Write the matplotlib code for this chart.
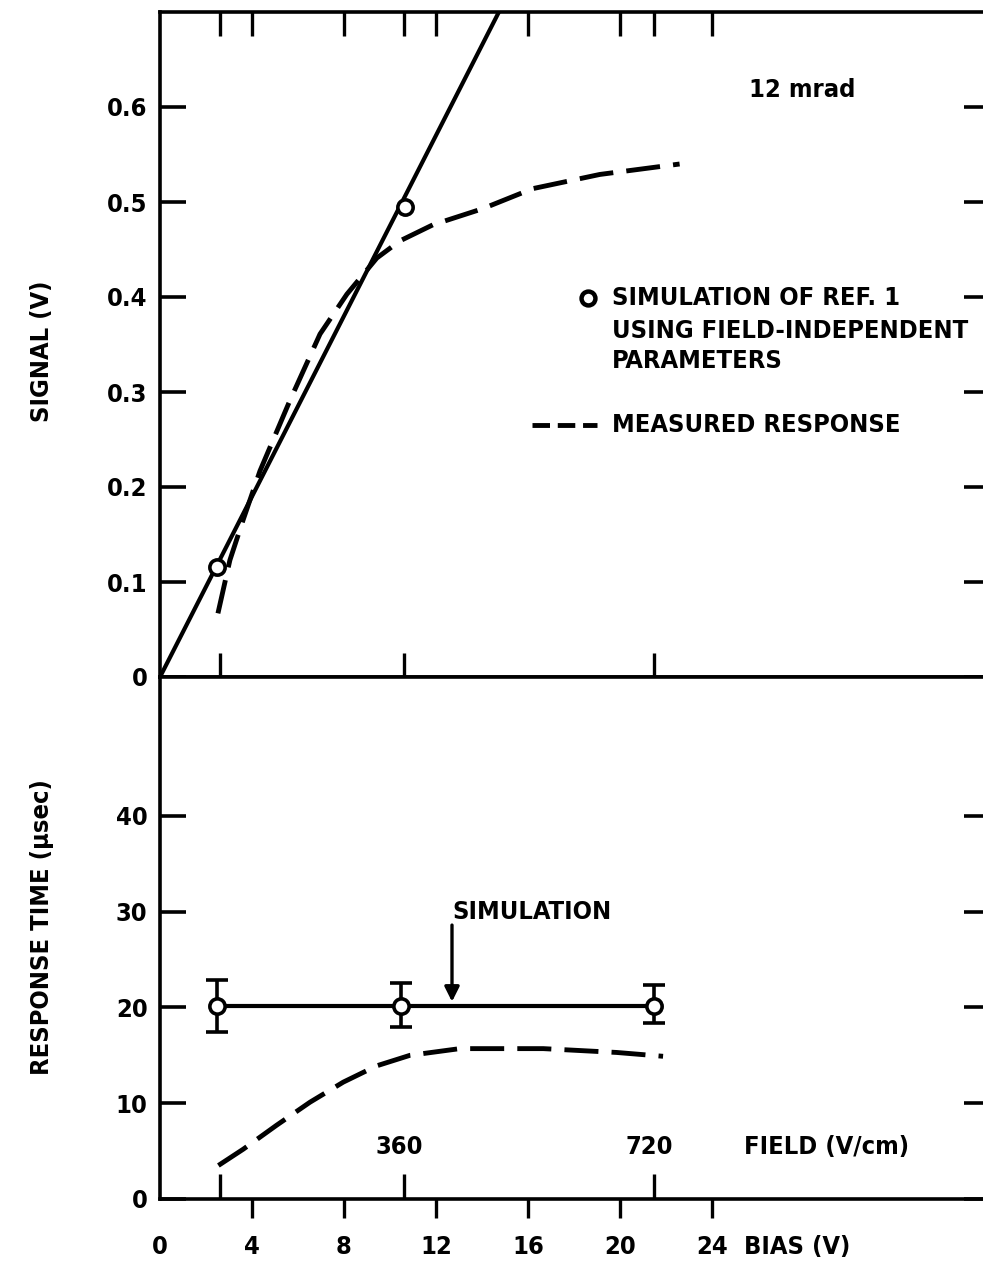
import matplotlib
matplotlib.use("Agg")
import matplotlib.pyplot as plt

plt.rcParams['font.family'] = ['Liberation Sans Narrow', 'DejaVu Sans']
plt.rcParams['font.weight'] = 'bold'
plt.rcParams['font.stretch'] = 'condensed'

# --- data ---
# top panel: signal vs bias
sim_line_x = [0.0, 14.74]
sim_line_y = [0.0, 0.70]
sim_pts_x = [2.47, 10.65]
sim_pts_y = [0.116, 0.495]
meas_sig_x = [2.52, 3.04, 3.61, 4.35, 5.65, 6.96, 8.13, 9.43, 10.43, 11.87, 14.04, 16.2, 19.13, 22.6]
meas_sig_y = [0.067, 0.123, 0.165, 0.217, 0.291, 0.361, 0.403, 0.441, 0.459, 0.476, 0.493, 0.514, 0.529, 0.540]

# bottom panel: response time vs bias
rt_sim_x = [2.5, 10.5, 21.5]
rt_sim_y = [20.2, 20.2, 20.2]
rt_err_lo = [2.8, 2.2, 1.8]
rt_err_hi = [2.7, 2.3, 2.1]
meas_rt_x = [2.54, 3.62, 5.07, 6.52, 7.97, 9.42, 10.87, 13.04, 14.78, 16.67, 19.86, 21.88]
meas_rt_y = [3.5, 5.2, 7.7, 10.1, 12.2, 13.9, 15.0, 15.7, 15.7, 15.7, 15.3, 14.9]

bias_ticks = [0, 4, 8, 12, 16, 20, 24]
field_ticks = [2.6, 10.6, 21.5]
field_labels = ['', '360', '720']
sig_ticks = [0, 0.1, 0.2, 0.3, 0.4, 0.5, 0.6]
sig_labels = ['0', '0.1', '0.2', '0.3', '0.4', '0.5', '0.6']
rt_ticks = [0, 10, 20, 30, 40]

W, H = 983, 1267
fig = plt.figure(figsize=(W / 100, H / 100), dpi=100)
ax1 = fig.add_axes([160 / W, 1 - 677 / H, 830 / W, 665 / H])
ax2 = fig.add_axes([160 / W, 1 - 1199 / H, 830 / W, 522 / H])

FS = 19
lw_axis = 2.6
for ax in (ax1, ax2):
    for s in ax.spines.values():
        s.set_linewidth(lw_axis)
    ax.set_xlim(0, 36.1)

# ---- top panel ----
ax1.set_ylim(0, 0.7)
ax1.plot(sim_line_x, sim_line_y, color='black', lw=3)
ax1.plot(meas_sig_x, meas_sig_y, color='black', lw=3.5, dashes=(7, 2.7))
ax1.plot(sim_pts_x, sim_pts_y, 'o', ms=11, mfc='white', mec='black', mew=2.6, zorder=5)

ax1.set_yticks(sig_ticks)
ax1.set_yticklabels(sig_labels)
ax1.tick_params(axis='y', which='major', direction='in', length=19, width=2.6,
                left=True, right=True, pad=9, labelsize=FS)
ax1.set_xticks([4, 8, 12, 16, 20, 24])
ax1.set_xticks(field_ticks, minor=True)
ax1.tick_params(axis='x', which='major', direction='in', length=17, width=2.4,
                top=True, bottom=False, labelbottom=False, labeltop=False)
ax1.tick_params(axis='x', which='minor', direction='in', length=17, width=2.4,
                top=True, bottom=True, labelbottom=False, labeltop=False)
ax1.set_ylabel('SIGNAL (V)', fontsize=FS, fontweight='bold')
ax1.yaxis.set_label_coords(-0.128, 0.49)

texts = []
texts.append(ax1.text(25.6, 0.618, '12 mrad', fontsize=FS, va='center'))
ax1.plot([18.6], [0.399], 'o', ms=10, mfc='white', mec='black', mew=3.2)
texts.append(ax1.text(19.65, 0.399, 'SIMULATION OF REF. 1', fontsize=FS, va='center'))
longest = ax1.text(19.65, 0.364, 'USING FIELD-INDEPENDENT', fontsize=FS, va='center')
texts.append(longest)
texts.append(ax1.text(19.65, 0.333, 'PARAMETERS', fontsize=FS, va='center'))
ax1.plot([16.2, 19.0], [0.265, 0.265], color='black', lw=3.5, dashes=(3.6, 1.6))
texts.append(ax1.text(19.65, 0.265, 'MEASURED RESPONSE', fontsize=FS, va='center'))

# ---- bottom panel ----
ax2.set_ylim(0, 54.5)
ax2.errorbar(rt_sim_x, rt_sim_y, yerr=[rt_err_lo, rt_err_hi], color='black', lw=3,
             elinewidth=2.6, capsize=8, capthick=3, marker='o', ms=11,
             mfc='white', mec='black', mew=2.6, zorder=5)
ax2.plot(meas_rt_x, meas_rt_y, color='black', lw=3.5, dashes=(7, 2.7))

ax2.set_yticks(rt_ticks)
ax2.set_yticklabels([str(t) for t in rt_ticks])
ax2.tick_params(axis='y', which='major', direction='in', length=19, width=2.6,
                left=True, right=True, pad=9, labelsize=FS)
ax2.set_xticks(bias_ticks)
ax2.set_xticklabels([str(t) for t in bias_ticks])
ax2.tick_params(axis='x', which='major', direction='out', length=14, width=2.4,
                top=False, bottom=True, pad=12, labelsize=FS)
ax2.xaxis.get_major_ticks()[0].tick1line.set_visible(False)
ax2.set_xticks(field_ticks, minor=True)
ax2.tick_params(axis='x', which='minor', direction='in', length=18, width=2.4,
                top=False, bottom=True)
ax2.set_ylabel('RESPONSE TIME (\u03bcsec)', fontsize=FS, fontweight='bold')
ax2.yaxis.set_label_coords(-0.128, 0.52)

for xv, lab in zip(field_ticks, field_labels):
    if lab:
        texts.append(ax2.text(xv - 0.2, 5.4, lab, fontsize=FS, ha='center', va='center'))
texts.append(ax2.text(25.4, 5.4, 'FIELD (V/cm)', fontsize=FS, va='center'))
texts.append(ax2.text(25.4, -5.0, 'BIAS (V)', fontsize=FS, va='center', clip_on=False))

texts.append(ax2.text(12.7, 30.0, 'SIMULATION', fontsize=FS, va='center'))
ax2.annotate('', xy=(12.7, 20.6), xytext=(12.7, 28.6),
             arrowprops=dict(arrowstyle='-|>', color='black', lw=2.4,
                             mutation_scale=22, shrinkA=0, shrinkB=0))

# if the installed bold font is wider than the scan's lettering, shrink the text to fit
fig.canvas.draw()
bb = longest.get_window_extent()
limit = 965
if bb.x1 > limit:
    scale = (limit - bb.x0) / bb.width
    for t in texts:
        t.set_fontsize(FS * scale)
    for ax in (ax1, ax2):
        ax.tick_params(labelsize=FS * scale)
        ax.yaxis.label.set_fontsize(FS * scale)

fig.savefig('out.png', dpi=100)
